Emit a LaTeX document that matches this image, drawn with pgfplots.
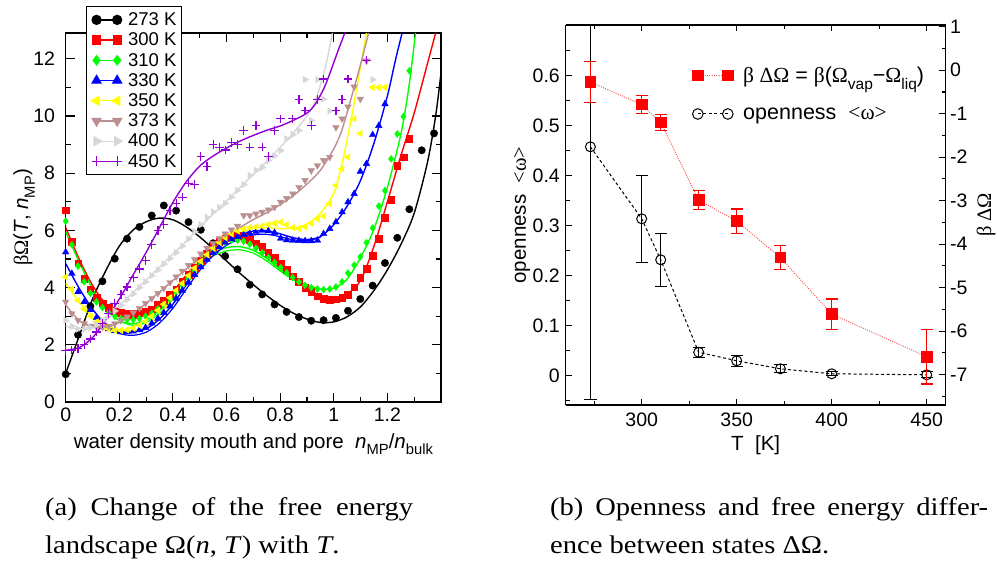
\documentclass[border=0pt]{standalone}
\usepackage{graphicx}
\usepackage{pgfplots}
\pgfplotsset{compat=1.18}
\usepackage{pgfplotstable}
\usepackage{fontspec}
\setmainfont{Liberation Sans}
\newfontfamily\grk{Liberation Serif}
\newfontfamily\capfont{Liberation Serif}[FakeStretch=1.12]
\definecolor{xgreen}{RGB}{0,255,0}
\definecolor{xyellow}{RGB}{255,255,0}
\definecolor{xbrown}{RGB}{188,143,143}
\definecolor{xgrey}{RGB}{215,215,215}
\definecolor{xviolet}{RGB}{148,0,211}
\definecolor{xred}{RGB}{255,0,0}
\definecolor{xblue}{RGB}{0,0,255}
\newcommand\sub[1]{\raisebox{-0.32em}{\scalebox{0.72}{#1}}}

\pgfplotstableread{
x red green blue yel brown grey purp
0     6.70  6.32  5.24  4.37  3.50  2.85  1.81
0.023 5.60  5.50  4.49  3.95  3.09  2.65  1.82
0.046 4.85  4.75  3.85  3.55  2.86  2.55  1.88
0.069 4.30  4.20  3.50  3.25  2.74  2.55  2.00
0.092 3.95  3.80  3.22  3.00  2.66  2.60  2.20
0.115 3.65  3.50  2.95  2.80  2.62  2.70  2.45
0.137 3.45  3.30  2.72  2.65  2.62  2.85  2.75
0.160 3.30  3.12  2.55  2.55  2.66  3.00  3.10
0.183 3.18  3.00  2.48  2.50  2.74  3.18  3.45
0.206 3.12  2.92  2.45  2.50  2.85  3.38  3.75
0.229 3.10  2.88  2.45  2.52  2.98  3.58  4.02
0.252 3.08  2.88  2.47  2.58  3.12  3.78  4.35
0.275 3.10  2.92  2.52  2.68  3.28  4.00  4.65
0.298 3.15  3.00  2.60  2.82  3.45  4.20  4.95
0.321 3.25  3.10  2.75  3.00  3.62  4.42  5.50
0.344 3.40  3.25  2.92  3.20  3.80  4.62  6.00
0.366 3.55  3.42  3.12  3.42  3.98  4.82  6.20
0.389 3.75  3.62  3.35  3.65  4.18  5.02  6.70
0.412 3.95  3.85  3.62  3.90  4.38  5.22  6.93
0.435 4.20  4.08  3.90  4.15  4.58  5.45  7.16
0.458 4.45  4.32  4.18  4.42  4.78  5.70  7.65
0.481 4.70  4.58  4.45  4.68  4.98  5.95  7.60
0.504 4.95  4.82  4.72  4.92  5.18  6.20  8.58
0.527 5.20  5.05  4.98  5.15  5.38  6.45  8.24
0.550 5.42  5.28  5.22  5.38  5.55  6.65  9.00
0.573 5.60  5.45  5.42  5.58  5.72  6.80  8.91
0.595 5.72  5.58  5.58  5.75  5.88  6.95  8.81
0.618 5.80  5.65  5.70  5.88  6.02  7.16  9.08
0.641 5.82  5.66  5.78  5.98  6.15  7.40  9.00
0.664 5.80  5.62  5.85  6.05  6.52  7.60  9.49
0.687 5.68  5.52  5.90  6.10  6.52  7.92  8.91
0.710 5.55  5.38  5.95  6.12  6.58  8.10  9.66
0.733 5.42  5.22  6.00  6.15  6.64  8.20  8.91
0.756 5.22  5.05  5.98  6.20  6.72  8.44  8.58
0.779 5.05  4.88  5.92  6.25  6.81  8.60  9.49
0.802 4.85  4.70  5.72  6.29  6.99  8.79  9.90
0.824 4.62  4.52  5.66  6.20  7.12  9.20  nan
0.847 4.40  4.35  5.65  6.10  7.28  9.35  9.90
0.870 4.20  4.20  5.64  6.06  7.51  9.49  10.57
0.893 4.00  4.08  5.63  6.12  7.75  11.27 10.18
0.916 3.85  4.00  5.63  6.25  8.09  9.84  9.66
0.939 3.70  3.95  5.65  6.40  8.27  11.27 10.57
0.962 3.62  3.93  5.88  6.50  8.45  10.59 11.29
0.985 3.58  3.95  6.06  6.93  8.56  10.18 nan
1.008 3.60  4.02  6.29  7.57  9.60  nan   10.18
1.031 3.65  4.20  6.64  8.15  9.90  nan   10.57
1.053 3.75  4.51  6.99  8.56  10.32 nan   11.29
1.076 4.02  4.78  7.28  9.90  11.02 nan   nan
1.099 4.35  5.07  8.06  9.39  10.59 nan   nan
1.122 4.66  5.57  8.33  nan   11.93 nan   11.95
1.145 5.12  6.08  9.34  11.0  nan   11.27 nan
1.168 5.71  6.85  9.66  11.0  nan   nan   nan
1.191 6.44  7.39  10.42 11.0  nan   nan   nan
1.214 7.07  8.50  nan   nan   nan   nan   nan
1.237 8.27  9.37  nan   nan   nan   nan   nan
1.260 8.56  9.98  nan   nan   nan   nan   nan
1.282 9.20  11.58 nan   nan   nan   nan   nan
}\dataA

\pgfplotstableread{
x y
0.000 0.97
0.046 2.35
0.092 3.35
0.137 4.22
0.183 5.01
0.229 5.71
0.275 6.12
0.321 6.52
0.366 6.87
0.412 6.69
0.458 6.29
0.504 6.02
0.550 5.55
0.595 5.10
0.641 4.64
0.687 4.10
0.733 3.76
0.779 3.41
0.824 3.15
0.870 2.97
0.916 2.84
0.962 2.86
1.008 2.94
1.053 3.19
1.099 3.60
1.145 4.07
1.191 4.86
1.237 5.74
1.282 6.74
1.328 8.80
1.374 9.39
}\dataB

\pgfplotstableread{
T w wp wm dO dOe
273 0.457 0.506 0.506 -0.27 0.47
300 0.313 0.087 0.087 -0.79 0.21
310 0.231 0.053 0.053 -1.20 0.18
330 0.046 0.010 0.010 -2.99 0.22
350 0.029 0.011 0.011 -3.47 0.28
373 0.013 0.008 0.008 -4.31 0.28
400 0.003 0.004 0.004 -5.61 0.35
450 0.001 0.006 0.006 -6.59 0.63
}\dataC

\begin{document}
\begin{tikzpicture}
\useasboundingbox (0,0) rectangle (997pt,563pt);

% ---------------- left panel ----------------
\begin{axis}[
  at={(65.7pt,161pt)}, anchor=south west, scale only axis,
  width=375.3pt, height=369pt,
  xmin=0, xmax=1.40, ymin=0, ymax=12.9,
  xtick={0,0.2,0.4,0.6,0.8,1,1.2}, minor xtick={0.1,0.3,0.5,0.7,0.9,1.1,1.3},
  ytick={0,2,4,6,8,10,12}, minor ytick={1,3,5,7,9,11},
  tick align=inside, major tick length=9pt, minor tick length=5pt,
  every tick/.style={black, line width=1.1pt},
  axis line style={line width=1.3pt},
  /pgf/number format/assume math mode=true,
  xticklabel style={font=\fontsize{19.5}{20}\selectfont, inner sep=0pt, yshift=-6pt},
  yticklabel style={font=\fontsize{19.5}{20}\selectfont, inner sep=0pt, xshift=-10.5pt},
  xlabel={water density mouth and pore \ \textit{n}\sub{MP}/\textit{n}\sub{bulk}},
  xlabel style={font=\fontsize{20.5}{22}\selectfont, at={(axis description cs:0.5,-0.1247)}, anchor=base, inner sep=0pt},
  ylabel={{\grk βΩ}(\textit{T}, \textit{n}\sub{MP})},
  ylabel style={font=\fontsize{20.5}{22}\selectfont, at={(axis description cs:-0.111,0.5)}, anchor=center, rotate=0, inner sep=0pt},
  legend style={at={(0.054,1.073)}, anchor=north west, draw=black, line width=1.2pt, fill=white,
    inner xsep=5pt, inner ysep=6pt, row sep=5.8pt, column sep=6pt,
    font=\fontsize{18.5}{20}\selectfont, nodes={inner sep=0pt}},
  legend cell align=left,
  legend image code/.code={\draw[mark repeat=2,mark phase=1,#1] plot coordinates {(0pt,0pt)(10.3pt,0pt)(20.6pt,0pt)};},
]
\addlegendimage{black, line width=1.3pt, mark=*, mark size=4.5pt}
\addlegendentry{273 K\hspace{4pt}}
\addlegendimage{xred, line width=1.3pt, mark=square*, mark size=4pt}
\addlegendentry{300 K}
\addlegendimage{xgreen, line width=1.3pt, mark=diamond*, mark size=4.5pt}
\addlegendentry{310 K}
\addlegendimage{xblue, line width=1.3pt, mark=triangle*, mark size=5pt}
\addlegendentry{330 K}
\addlegendimage{xyellow, line width=1.3pt, mark=triangle*, mark size=5pt, mark options={rotate=90}}
\addlegendentry{350 K}
\addlegendimage{xbrown, line width=1.3pt, mark=triangle*, mark size=5pt, mark options={rotate=180}}
\addlegendentry{373 K}
\addlegendimage{xgrey, line width=1.3pt, mark=triangle*, mark size=5pt, mark options={rotate=-90}}
\addlegendentry{400 K}
\addlegendimage{xviolet, line width=1.3pt, mark=+, mark size=5pt}
\addlegendentry{450 K}

% 273 K
\addplot[forget plot, only marks, black, mark=*, mark size=3.7pt] table[x=x,y=y]{\dataB};
\addplot[forget plot, black, line width=1.4pt, smooth] coordinates {(0,1.0)(0.05,2.3)(0.1,3.6)(0.15,4.6)(0.2,5.45)(0.25,6.0)(0.3,6.3)(0.35,6.43)(0.4,6.37)(0.45,6.12)(0.5,5.77)(0.55,5.36)(0.6,4.93)(0.65,4.5)(0.7,4.1)(0.75,3.72)(0.8,3.38)(0.85,3.1)(0.9,2.9)(0.95,2.78)(1.0,2.8)(1.05,2.98)(1.1,3.33)(1.15,3.9)(1.2,4.62)(1.25,5.5)(1.3,6.6)(1.35,8.4)(1.38,10.0)(1.40,11.5)};
% 300 K
\addplot[forget plot, only marks, xred, mark=square*, mark size=3.3pt] table[x=x,y=red]{\dataA};
\addplot[forget plot, xred, line width=1.4pt, smooth] coordinates {(0,6.1)(0.05,5.0)(0.1,4.08)(0.15,3.42)(0.2,3.05)(0.25,2.92)(0.3,3.05)(0.35,3.35)(0.4,3.86)(0.45,4.44)(0.5,5.0)(0.55,5.42)(0.6,5.62)(0.65,5.68)(0.7,5.52)(0.75,5.15)(0.8,4.73)(0.85,4.33)(0.9,3.98)(0.95,3.72)(1.0,3.62)(1.05,3.78)(1.1,4.25)(1.15,5.45)(1.2,7.0)(1.25,8.6)(1.3,10.1)(1.35,11.85)(1.38,12.9)};
% 310 K
\addplot[forget plot, only marks, xgreen, mark=diamond*, mark size=3.5pt] table[x=x,y=green]{\dataA};
\addplot[forget plot, xgreen, line width=1.4pt, smooth] coordinates {(0,5.95)(0.05,4.9)(0.1,3.95)(0.15,3.25)(0.2,2.85)(0.25,2.74)(0.3,2.86)(0.35,3.2)(0.4,3.72)(0.45,4.3)(0.5,4.85)(0.55,5.22)(0.6,5.4)(0.65,5.43)(0.7,5.3)(0.75,5.02)(0.8,4.65)(0.85,4.32)(0.9,4.08)(0.95,3.95)(1.0,3.98)(1.05,4.3)(1.1,5.05)(1.15,6.05)(1.2,7.5)(1.25,9.35)(1.28,11.0)(1.305,12.9)};
\addplot[forget plot, xgreen, line width=1.2pt, smooth] coordinates {(0.2,2.83)(0.25,2.68)(0.3,2.78)(0.35,3.1)(0.4,3.6)(0.45,4.17)(0.5,4.72)(0.55,5.1)(0.6,5.28)(0.65,5.32)(0.7,5.2)(0.75,4.93)(0.8,4.58)(0.85,4.27)(0.9,4.05)(0.95,3.94)};
% 330 K
\addplot[forget plot, only marks, xblue, mark=triangle*, mark size=3.8pt] table[x=x,y=blue]{\dataA};
\addplot[forget plot, xblue, line width=1.4pt, smooth] coordinates {(0,4.84)(0.05,3.98)(0.1,3.25)(0.15,2.72)(0.2,2.48)(0.25,2.45)(0.3,2.56)(0.35,2.9)(0.4,3.42)(0.45,4.1)(0.5,4.76)(0.55,5.28)(0.6,5.63)(0.65,5.85)(0.7,5.98)(0.75,5.98)(0.8,5.88)(0.85,5.74)(0.9,5.68)(0.95,5.78)(1.0,6.2)(1.05,6.85)(1.1,7.75)(1.15,9.05)(1.2,10.7)(1.23,11.95)(1.255,12.9)};
\addplot[forget plot, xblue, line width=1.2pt, smooth] coordinates {(0.15,2.7)(0.2,2.4)(0.25,2.33)(0.3,2.44)(0.35,2.76)(0.4,3.28)(0.45,3.95)(0.5,4.6)(0.55,5.12)(0.6,5.48)(0.65,5.7)(0.7,5.84)(0.75,5.86)(0.8,5.78)(0.85,5.67)(0.9,5.64)(0.95,5.76)};
% 350 K
\addplot[forget plot, only marks, xyellow, mark=triangle*, mark size=3.8pt, mark options={rotate=90}] table[x=x,y=yel]{\dataA};
\addplot[forget plot, xyellow, line width=1.4pt, smooth] coordinates {(0,4.15)(0.05,3.5)(0.1,3.0)(0.15,2.68)(0.2,2.52)(0.25,2.48)(0.3,2.62)(0.35,3.02)(0.4,3.68)(0.45,4.38)(0.5,5.0)(0.55,5.47)(0.6,5.76)(0.65,5.92)(0.7,6.08)(0.75,6.1)(0.8,6.06)(0.85,6.08)(0.9,6.22)(0.95,6.6)(1.0,7.3)(1.03,8.3)(1.066,9.95)(1.097,11.58)(1.122,12.9)};
% 373 K
\addplot[forget plot, only marks, xbrown, mark=triangle*, mark size=3.8pt, mark options={rotate=180}] table[x=x,y=brown]{\dataA};
\addplot[forget plot, xbrown, line width=1.4pt, smooth] coordinates {(0,3.4)(0.05,2.85)(0.1,2.62)(0.15,2.6)(0.2,2.78)(0.25,3.08)(0.3,3.45)(0.35,3.85)(0.4,4.25)(0.45,4.65)(0.5,5.05)(0.55,5.45)(0.6,5.8)(0.65,6.1)(0.7,6.38)(0.75,6.62)(0.8,6.9)(0.85,7.22)(0.9,7.62)(0.95,8.1)(1.0,8.85)(1.03,9.5)(1.066,10.66)(1.1,11.8)(1.13,12.9)};
% 400 K
\addplot[forget plot, only marks, xgrey, mark=triangle*, mark size=3.8pt, mark options={rotate=-90}] table[x=x,y=grey]{\dataA};
\addplot[forget plot, xgrey, line width=1.4pt, smooth] coordinates {(0,2.65)(0.05,2.55)(0.1,2.68)(0.15,2.98)(0.2,3.38)(0.25,3.82)(0.3,4.27)(0.35,4.72)(0.4,5.17)(0.45,5.63)(0.5,6.1)(0.55,6.57)(0.6,7.03)(0.65,7.5)(0.7,7.95)(0.75,8.42)(0.8,8.9)(0.85,9.42)(0.9,10.0)(0.93,10.5)(0.966,11.6)(0.995,12.9)};
% 450 K
\addplot[forget plot, only marks, xviolet, mark=+, mark size=4.3pt, line width=1.2pt] table[x=x,y=purp]{\dataA};
\addplot[forget plot, xviolet, line width=1.4pt, smooth] coordinates {(0,1.81)(0.05,1.9)(0.1,2.25)(0.15,2.87)(0.2,3.6)(0.25,4.42)(0.3,5.23)(0.35,6.1)(0.4,6.98)(0.45,7.7)(0.5,8.25)(0.55,8.6)(0.6,8.88)(0.65,9.12)(0.7,9.32)(0.75,9.5)(0.8,9.65)(0.85,9.85)(0.9,10.1)(0.93,10.4)(0.96,10.9)(0.98,11.35)(1.016,12.28)(1.041,12.9)};
\end{axis}

% ---------------- right panel ----------------
\begin{axis}[
  at={(565.7pt,158pt)}, anchor=south west, scale only axis,
  width=380pt, height=380pt,
  xmin=260, xmax=460, ymin=-0.0594, ymax=0.7006,
  axis y line*=left,
  xtick={300,350,400,450}, minor xtick={275,325,375,425},
  ytick={0,0.1,0.2,0.3,0.4,0.5,0.6}, minor ytick={-0.05,0.05,0.15,0.25,0.35,0.45,0.55,0.65},
  tick align=inside, major tick length=6.5pt, minor tick length=4pt,
  every tick/.style={black, line width=1.1pt},
  axis line style={line width=1.3pt, -},
  /pgf/number format/assume math mode=true,
  xticklabel style={font=\fontsize{19.5}{20}\selectfont, inner sep=0pt, yshift=-7.7pt},
  yticklabel style={font=\fontsize{19.5}{20}\selectfont, inner sep=0pt, xshift=-5.7pt},
  xlabel={T \ [K]},
  xlabel style={font=\fontsize{20.5}{22}\selectfont, at={(axis description cs:0.5,-0.12)}, anchor=base, inner sep=0pt},
  ylabel={openness \ {\grk <ω>}},
  ylabel style={font=\fontsize{20.5}{22}\selectfont, at={(axis description cs:-0.115,0.5)}, anchor=center, inner sep=0pt},
]
\addplot[black, line width=1pt, dash pattern=on 3pt off 2.5pt, mark=o, mark size=5pt, mark options={solid, line width=1pt},
  error bars/.cd, y dir=both, y explicit,
  error bar style={line width=1.3pt, solid, black},
  error mark options={rotate=90, line width=1.3pt, black, mark size=6.2pt}]
  table[x=T, y=w, y error plus=wp, y error minus=wm]{\dataC};
\end{axis}

\begin{axis}[
  at={(565.7pt,158pt)}, anchor=south west, scale only axis,
  width=380pt, height=380pt,
  xmin=260, xmax=460, ymin=-7.70, ymax=1.04,
  axis y line*=right, axis x line=none,
  ytick={-7,-6,-5,-4,-3,-2,-1,0,1}, minor ytick={-7.5,-6.5,-5.5,-4.5,-3.5,-2.5,-1.5,-0.5,0.5},
  tick align=inside, major tick length=6.5pt, minor tick length=4pt,
  every tick/.style={black, line width=1.1pt},
  axis line style={line width=1.3pt, -},
  /pgf/number format/assume math mode=true,
  yticklabel style={font=\fontsize{19.5}{20}\selectfont, inner sep=0pt, xshift=4.3pt},
  ylabel={{\grk β ΔΩ}},
  ylabel style={font=\fontsize{20.5}{22}\selectfont, at={(axis description cs:1.106,0.5)}, anchor=center, inner sep=0pt, rotate=0},
  legend style={at={(0.333,0.89)}, anchor=north west, draw=none, fill=none,
    inner sep=0pt, row sep=23pt, column sep=10pt,
    font=\fontsize{21.5}{24}\selectfont, nodes={inner sep=0pt}},
  legend cell align=left,
  legend image code/.code={\draw[mark repeat=2,mark phase=1,#1] plot coordinates {(0pt,0pt)(15pt,0pt)(30pt,0pt)};},
]
\addlegendimage{red!65, line width=1pt, dash pattern=on 1pt off 1.3pt, mark=square*, mark size=5.4pt, mark options={solid, fill=xred, draw=xred}}
\addlegendentry{{\grk β ΔΩ} = {\grk β}({\grk Ω}\sub{vap}−{\grk Ω}\sub{liq})}
\addlegendimage{black, line width=1pt, dash pattern=on 3pt off 2.5pt, mark=o, mark size=5.3pt, mark options={solid}}
\addlegendentry{openness \ {\grk <ω>}}
\addplot[forget plot, red!65, line width=1pt, dash pattern=on 1pt off 1.3pt, mark=square*, mark size=5.3pt, mark options={solid, fill=xred, draw=xred},
  error bars/.cd, y dir=both, y explicit,
  error bar style={line width=1.3pt, solid, xred},
  error mark options={rotate=90, line width=1.3pt, xred, mark size=6pt}]
  table[x=T, y=dO, y error=dOe]{\dataC};
\end{axis}

% captions
\node[anchor=base west, inner sep=0pt, font=\capfont\fontsize{25.5}{28}\selectfont] at (45pt,48pt) {\makebox[368pt][s]{(a) Change of the free energy}};
\node[anchor=base west, inner sep=0pt, font=\capfont\fontsize{25.5}{28}\selectfont] at (45pt,10pt) {landscape Ω(\textit{n}, \textit{T}) with \textit{T}.};
\node[anchor=base west, inner sep=0pt, font=\capfont\fontsize{25.5}{28}\selectfont] at (550pt,48pt) {\makebox[438pt][s]{(b) Openness and free energy differ-}};
\node[anchor=base west, inner sep=0pt, font=\capfont\fontsize{25.5}{28}\selectfont] at (550pt,10pt) {ence between states ΔΩ.};
\end{tikzpicture}
\end{document}
